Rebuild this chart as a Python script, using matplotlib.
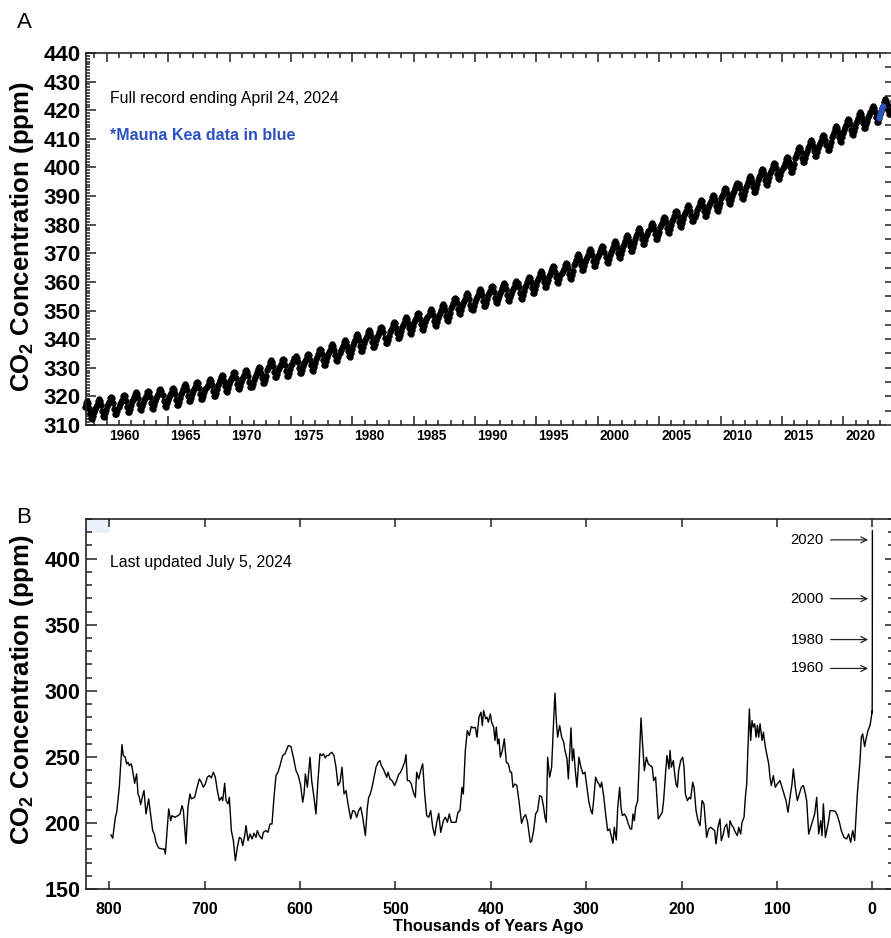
import numpy as np
import matplotlib
matplotlib.use("Agg")
import matplotlib.pyplot as plt
from matplotlib.ticker import MultipleLocator
from matplotlib.transforms import ScaledTranslation
from matplotlib.patches import Rectangle

plt.rcParams['font.family'] = ['Liberation Sans', 'DejaVu Sans']
plt.rcParams['mathtext.fontset'] = 'custom'
plt.rcParams['mathtext.rm'] = 'Liberation Sans'
plt.rcParams['mathtext.bf'] = 'Liberation Sans:bold'

# --- Panel A: Mauna Loa record (annual means + mean seasonal cycle) ---
years_a = list(range(1958, 2025))
co2_annual = [315.23, 315.98, 316.91, 317.64, 318.45, 318.99, 319.62, 320.04, 321.37, 322.18,
              323.05, 324.62, 325.68, 326.32, 327.46, 329.68, 330.19, 331.13, 332.03, 333.84,
              335.41, 336.84, 338.76, 340.12, 341.48, 343.15, 344.87, 346.35, 347.61, 349.31,
              351.69, 353.20, 354.45, 355.70, 356.54, 357.21, 358.96, 360.97, 362.74, 363.88,
              366.84, 368.54, 369.71, 371.32, 373.45, 375.98, 377.70, 379.98, 382.09, 384.02,
              385.83, 387.64, 390.10, 391.85, 394.06, 396.74, 398.81, 401.01, 404.41, 406.76,
              408.72, 411.65, 414.21, 416.41, 418.53, 421.08, 424.61]
seasonal = [0.1, 0.7, 1.4, 2.6, 3.1, 2.4, 0.8, -1.3, -3.1, -3.4, -2.2, -1.0]
first_month = (1958, 3)
last_month = (2024, 4)
blue_months = [(2022, 11), (2022, 12), (2023, 1), (2023, 2), (2023, 3)]

# --- Panel B: ice core record (thousands of years ago, ppm) ---
ice_age = [798.2, 796.4, 793.6, 792.2, 790.8, 789.5, 786.7, 785.3, 783.2, 781.8, 780.4, 779.0,
           776.9, 775.5, 773.4, 771.3, 769.9, 768.5, 767.1, 765.0, 763.6, 761.5, 758.7, 756.2,
           754.5, 752.8, 751.0, 748.2, 744.7, 742.3, 741.2, 737.7, 735.6, 734.2, 731.4, 727.9,
           725.8, 723.7, 722.3, 719.6, 717.5, 715.4, 714.0, 710.5, 708.4, 705.6, 703.5, 701.4,
           699.3, 697.2, 695.1, 693.0, 690.9, 688.8, 686.7, 684.6, 682.5, 681.1, 679.0, 677.6,
           675.5, 674.1, 672.0, 669.9, 667.8, 665.7, 663.6, 661.5, 660.1, 658.0, 656.6, 654.5,
           652.4, 650.3, 648.3, 646.2, 644.8, 642.7, 639.9, 638.5, 635.7, 633.6, 631.5, 629.4,
           627.3, 625.2, 623.1,
           621.0, 618.2, 615.8, 612.3, 609.5, 607.0, 604.2, 601.8, 599.3, 597.2, 595.8, 594.4,
           592.3, 589.5, 587.8, 585.4, 583.3, 581.2, 579.1, 577.0, 575.6, 573.5, 572.1, 570.0,
           568.6, 566.8, 564.4, 562.3, 560.2, 558.1, 556.0, 553.9, 551.8, 549.7, 546.9, 544.8,
           542.7, 540.6, 538.5, 536.4, 534.3, 531.5, 529.4, 528.0, 526.6, 524.5, 522.4, 520.3,
           518.2, 516.2, 514.8, 512.7, 510.6, 509.2, 507.8, 505.7, 503.6, 500.8, 498.7, 496.6,
           494.5, 492.4, 490.3, 488.9, 487.5, 485.4, 483.3, 481.2, 479.1, 477.7, 475.6, 473.5,
           471.4, 469.3, 467.2, 465.1, 463.0, 460.9, 458.8, 456.7, 454.6, 452.5, 449.7, 447.6,
           445.5, 443.5, 441.4, 439.3, 436.5, 434.4, 432.3, 430.2, 428.8, 426.7, 424.6, 422.5,
           420.4, 418.3, 416.2,
           414.5, 412.4, 410.3, 408.9, 407.5, 405.4, 404.0, 402.6, 400.5, 399.1, 397.0, 395.6,
           394.2, 392.8, 391.4, 390.0, 387.9, 385.8, 383.7, 381.6, 379.6, 378.2, 376.8, 374.7,
           372.6, 370.5, 367.7, 365.6, 363.5, 361.4, 358.6, 357.2, 355.1, 353.0, 350.9, 348.8,
           346.7, 344.6, 343.2, 341.8, 340.4, 338.3, 336.2, 334.1, 332.7, 331.3, 329.9, 327.8,
           325.7, 323.6, 322.2, 320.1, 318.7, 317.3, 315.9, 314.5, 313.1, 311.7, 309.7, 307.6,
           305.5, 303.4, 301.3, 299.2, 297.1, 295.0, 293.6, 292.2, 290.1, 288.0, 286.6, 285.2,
           283.8, 281.7, 279.6, 277.5, 275.4, 273.3, 271.9, 270.5, 268.4, 267.0, 264.9, 263.5,
           262.1, 260.0, 257.9, 255.8, 253.7, 252.3, 250.9, 249.5, 248.1, 246.0, 243.9, 242.5,
           241.1, 239.0, 236.9, 234.9, 232.8, 230.7, 229.3, 227.2, 225.8, 224.4, 222.3, 220.2,
           218.8, 216.7, 215.3, 213.2,
           212.1, 210.7, 208.6, 207.2, 205.8, 204.4, 203.0, 200.9, 198.8, 197.4, 196.0, 193.9,
           191.8, 190.4, 188.3, 186.9, 184.8, 182.7, 180.6, 178.5, 176.5, 175.1, 173.7, 171.6,
           169.5, 167.4, 165.3, 163.9, 161.8, 159.7, 158.3, 156.2, 154.8, 152.7, 150.6, 149.2,
           147.1, 145.7, 143.6, 141.5, 140.1, 138.0, 136.6, 134.5, 133.1, 131.7, 130.3, 128.9,
           127.5, 126.1, 124.7, 123.3, 121.9, 120.5, 119.1, 117.7, 115.6, 114.2, 112.1, 110.0,
           108.6, 107.3, 105.9, 103.8, 101.7, 99.6, 96.8, 94.7, 92.6, 90.5, 88.4, 86.3,
           84.2, 82.8, 80.7, 78.6, 76.5, 74.4, 72.3, 70.9, 68.8, 66.7, 64.6, 62.5,
           60.4, 58.3, 56.2, 54.1, 52.7, 51.3, 49.2, 47.1, 45.7, 44.3, 42.2, 38.8,
           36.6, 34.5, 32.5, 29.7, 26.9, 24.8, 22.7, 20.6, 18.5, 17.1, 15.7, 14.3,
           12.9, 11.5, 10.1, 8.0, 6.6, 4.5, 2.4, 1.0, 0.3, 0.15, 0.05]
ice_co2 = [190.9, 188.4, 204.3, 208.1, 218.2, 227.0, 259.3, 251.0, 249.7, 244.7, 245.9, 243.4,
           244.7, 239.6, 230.0, 237.1, 222.0, 219.4, 213.9, 220.7, 224.5, 206.8, 218.2, 204.3,
           194.2, 191.6, 185.3, 181.0, 180.3, 180.3, 176.5, 210.6, 201.7, 205.5, 204.3, 205.5,
           206.8, 213.1, 209.3, 184.1, 211.9, 222.0, 218.2, 219.4, 225.7, 233.3, 230.8, 227.0,
           229.5, 234.6, 235.8, 234.1, 238.4, 234.6, 224.5, 216.9, 219.4, 216.9, 230.0, 216.9,
           214.4, 219.4, 194.2, 186.6, 171.5, 181.6, 189.1, 187.9, 182.8, 190.4, 198.0, 186.6,
           191.6, 187.9, 192.2, 189.1, 194.2, 190.4, 187.9, 192.9, 194.2, 192.9, 199.2, 199.2,
           219.4, 235.8, 238.4,
           243.4, 251.0, 252.3, 258.6, 257.8, 249.7, 239.6, 235.8, 228.3, 215.6, 221.9, 237.1,
           227.0, 249.7, 232.1, 219.4, 206.8, 232.1, 252.3, 251.0, 252.3, 249.2, 251.0, 251.0,
           252.3, 253.5, 251.0, 242.2, 228.3, 230.8, 242.2, 221.9, 224.5, 214.4, 203.0, 209.3,
           208.8, 204.3, 209.3, 211.9, 204.3, 190.4, 211.9, 219.4, 221.4, 227.0, 234.6, 242.2,
           245.9, 247.2, 243.4, 240.9, 237.1, 234.6, 238.4, 233.3, 232.1, 228.3, 232.1, 236.6,
           238.4, 242.2, 245.9, 251.7, 232.1, 232.1, 229.5, 223.2, 219.4, 238.4, 233.3, 239.6,
           244.7, 221.9, 205.5, 204.3, 209.3, 196.7, 190.4, 200.5, 207.3, 192.9, 201.7, 204.3,
           200.5, 206.8, 200.5, 200.5, 200.5, 208.1, 209.3, 227.0, 221.9, 254.8, 269.9, 266.1,
           272.9, 271.9, 272.4,
           264.9, 280.0, 283.8, 273.7, 285.1, 278.8, 280.0, 276.2, 282.5, 276.2, 272.5, 262.4,
           272.5, 259.8, 263.6, 249.7, 254.8, 263.6, 245.9, 244.7, 238.4, 238.4, 227.0, 229.5,
           228.3, 216.9, 199.7, 204.3, 206.3, 200.5, 185.3, 186.1, 194.2, 206.8, 209.3, 220.7,
           219.9, 211.9, 204.3, 200.5, 249.7, 234.6, 242.2, 277.5, 298.2, 277.5, 264.9, 273.7,
           264.9, 261.1, 254.8, 248.5, 233.3, 252.3, 271.9, 247.2, 256.0, 242.2, 227.0, 249.7,
           242.2, 237.1, 238.4, 227.0, 215.6, 209.3, 206.8, 216.9, 234.6, 230.8, 229.5, 227.0,
           230.8, 220.7, 206.8, 194.2, 195.4, 189.1, 184.6, 196.7, 187.1, 210.6, 227.0, 211.9,
           205.5, 206.8, 204.3, 199.2, 195.4, 195.4, 206.8, 201.7, 211.9, 216.9, 254.8, 279.5,
           262.4, 239.6, 249.7, 244.7, 243.4, 242.2, 232.1, 234.6, 219.4, 203.0, 205.5, 208.1,
           216.9, 238.4, 251.0, 240.9,
           254.8, 242.2, 247.2, 237.1, 229.5, 227.0, 239.6, 247.2, 249.7, 242.2, 221.9, 216.9,
           219.4, 218.2, 230.8, 227.0, 209.3, 201.7, 198.0, 216.9, 214.4, 201.7, 189.1, 195.4,
           196.7, 195.4, 194.2, 184.1, 196.7, 203.0, 186.6, 191.6, 196.7, 199.2, 189.1, 201.7,
           198.0, 196.7, 192.9, 190.4, 196.7, 191.6, 200.5, 204.3, 219.4, 229.5, 257.3, 286.3,
           262.4, 277.5, 272.5, 275.0, 264.9, 273.7, 264.9, 275.0, 262.4, 268.7, 257.3, 249.7,
           244.7, 234.6, 228.3, 235.8, 227.0, 229.5, 232.1, 227.0, 221.9, 216.9, 208.1, 219.4,
           229.5, 240.9, 227.0, 216.9, 221.9, 227.0, 228.3, 224.5, 216.9, 191.6, 196.7, 201.7,
           206.8, 219.4, 191.6, 201.7, 190.4, 214.4, 189.1, 196.7, 201.7, 209.3, 209.3, 208.8,
           205.5, 200.5, 194.2, 189.1, 187.9, 191.6, 185.3, 194.2, 186.6, 204.3, 221.9, 234.6,
           247.2, 264.9, 267.4, 257.8, 263.6, 269.9, 273.7, 280.0, 284.6, 283.0, 296.0]
arrow_years = [2020, 2000, 1980, 1960]
last_year_b = 2023

# build monthly series for panel A
t_month, co2_month, is_blue = [], [], []
n = len(years_a)
for i, y in enumerate(years_a):
    lo = co2_annual[max(i - 1, 0)]
    hi = co2_annual[min(i + 1, n - 1)]
    slope = (hi - lo) / (min(i + 1, n - 1) - max(i - 1, 0))
    for m in range(1, 13):
        if (y, m) < first_month or (y, m) > last_month:
            continue
        t_month.append(y + (m - 0.5) / 12)
        co2_month.append(co2_annual[i] + slope * (m - 6.5) / 12 + seasonal[m - 1])
        is_blue.append((y, m) in blue_months)
t_month = np.array(t_month)
co2_month = np.array(co2_month)
is_blue = np.array(is_blue)

fig = plt.figure(figsize=(8.91, 9.38), dpi=100)
W, H = 891, 938
spine_c = '#222222'

# ---------------- Panel A ----------------
axA = fig.add_axes([86 / W, 1 - 425 / H, (885 - 86) / W, (425 - 53) / H])
axA.plot(t_month, co2_month, 'o-', color='black', ms=3.6, lw=1.0, clip_on=False)
axA.plot(t_month[is_blue], co2_month[is_blue], 'o-', color='#2b50c0', ms=3.0, lw=3.0,
         clip_on=False, zorder=5)
axA.set_xlim(1958.31, 2023.39)
axA.set_ylim(310, 440)
axA.xaxis.set_minor_locator(MultipleLocator(1))
axA.yaxis.set_major_locator(MultipleLocator(10))
axA.yaxis.set_minor_locator(MultipleLocator(1))
axA.set_xticks(range(1960, 2021, 5))
axA.tick_params(axis='x', which='both', direction='in', top=True, bottom=True,
                labelsize=9.8, pad=3, width=1.1, color=spine_c)
axA.tick_params(axis='x', which='major', length=6.5)
axA.tick_params(axis='x', which='minor', length=3.5)
axA.tick_params(axis='y', which='both', direction='in', left=True, right=False,
                labelsize=16, pad=4, width=1.1, color=spine_c)
axA.tick_params(axis='y', which='major', length=7)
axA.tick_params(axis='y', which='minor', length=3)
for lab in axA.get_xticklabels():
    lab.set_fontweight('bold')
    lab.set_horizontalalignment('left')
    lab.set_transform(lab.get_transform() + ScaledTranslation(0.02, 0, fig.dpi_scale_trans))
for lab in axA.get_yticklabels():
    lab.set_fontweight('bold')
axA.spines['right'].set_visible(False)
for s in ['left', 'top', 'bottom']:
    axA.spines[s].set_linewidth(1.2)
    axA.spines[s].set_color(spine_c)
secA = axA.secondary_yaxis('right')
secA.set_yticks(np.arange(310, 441, 5))
secA.tick_params(direction='out', length=5, width=1.1, labelright=False, color=spine_c)
secA.spines['right'].set_visible(False)
axA.set_ylabel(r'CO$_\mathbf{2}$ Concentration (ppm)', fontsize=18.5, fontweight='bold')
axA.yaxis.set_label_coords(-0.062, 0.505)
axA.text(0.030, 0.879, 'Full record ending April 24, 2024', transform=axA.transAxes,
         fontsize=11.4, va='center', ha='left')
axA.text(0.030, 0.779, '*Mauna Kea data in blue', transform=axA.transAxes,
         fontsize=11.5, fontweight='bold', color='#2b50c0', va='center', ha='left')

# ---------------- Panel B ----------------
axB = fig.add_axes([86 / W, 1 - 889 / H, (891 - 86) / W, (889 - 519) / H])
years_b = [y for y in years_a if y <= last_year_b]
x_modern = [-(y - 1950) / 1000 for y in years_b]
x_all = list(ice_age) + x_modern
y_all = list(ice_co2) + co2_annual[:len(years_b)]
axB.plot(x_all, y_all, color='black', lw=1.0)
axB.set_xlim(824.4, -19.6)
axB.set_ylim(150, 430)
axB.set_xticks(range(0, 801, 100))
axB.yaxis.set_major_locator(MultipleLocator(50))
axB.yaxis.set_minor_locator(MultipleLocator(10))
axB.tick_params(axis='x', which='both', direction='in', top=True, bottom=True,
                labelsize=11.5, pad=9, length=6, width=1.1, color=spine_c)
axB.tick_params(axis='y', which='both', direction='in', left=True, right=False,
                labelsize=15.5, pad=4, width=1.1, color=spine_c)
axB.tick_params(axis='y', which='major', length=8)
axB.tick_params(axis='y', which='minor', length=4.3)
for lab in axB.get_xticklabels() + axB.get_yticklabels():
    lab.set_fontweight('bold')
axB.spines['right'].set_visible(False)
for s in ['left', 'top', 'bottom']:
    axB.spines[s].set_linewidth(1.2)
    axB.spines[s].set_color(spine_c)
secB = axB.secondary_yaxis('right')
secB.yaxis.set_major_locator(MultipleLocator(50))
secB.yaxis.set_minor_locator(MultipleLocator(10))
secB.tick_params(which='both', direction='in', labelright=False, width=1.1, color=spine_c)
secB.tick_params(which='major', length=4.5)
secB.tick_params(which='minor', length=2)
secB.spines['right'].set_visible(False)
axB.set_xlabel('Thousands of Years Ago', fontsize=11.8, fontweight='bold', labelpad=2)
axB.set_ylabel(r'CO$_\mathbf{2}$ Concentration (ppm)', fontsize=18.5, fontweight='bold')
axB.yaxis.set_label_coords(-0.062, 0.54)
axB.text(0.030, 0.882, 'Last updated July 5, 2024', transform=axB.transAxes,
         fontsize=11.4, va='center', ha='left')
axB.add_patch(Rectangle((0, 1 - 14 / 370), 24 / 805, 14 / 370, transform=axB.transAxes,
                        facecolor='#eaf0fa', edgecolor='none', zorder=0))
for yr in arrow_years:
    val = co2_annual[years_a.index(yr)]
    axB.annotate(str(yr), xy=(-(yr - 1950) / 1000, val), xytext=(-35, 0),
                 textcoords='offset points', ha='right', va='center', fontsize=10.7,
                 arrowprops=dict(arrowstyle='->', lw=0.9, color='#222222',
                                 shrinkA=3, shrinkB=3))

fig.text(17 / W, 1 - 28 / H, 'A', fontsize=16, ha='left', va='baseline')
fig.text(16 / W, 1 - 523 / H, 'B', fontsize=16, ha='left', va='baseline')

fig.savefig('out.png', dpi=100)
